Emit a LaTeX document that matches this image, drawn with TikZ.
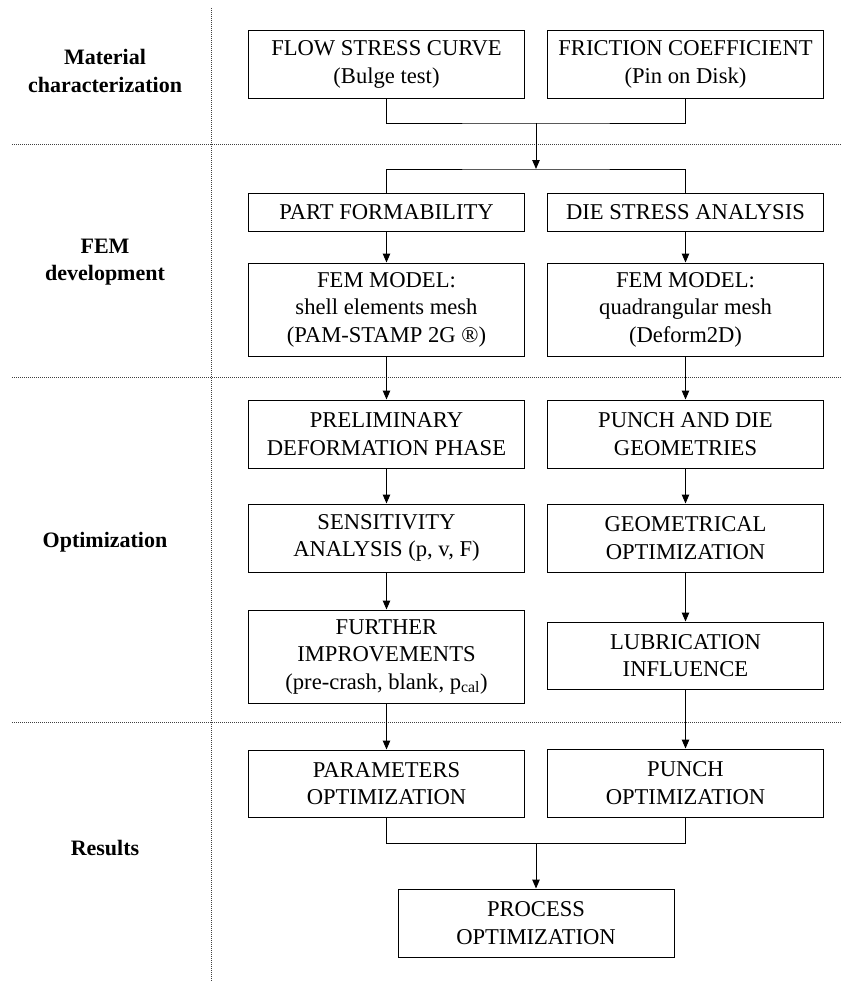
\documentclass[tikz,border=0pt]{standalone}
\usepackage{fontspec}
\setmainfont{Liberation Serif}
\usetikzlibrary{arrows.meta, positioning, calc}

\begin{document}
\begin{tikzpicture}[
  x=1pt, y=-1pt,
  font=\fontsize{22.6}{27.5}\selectfont,
  box/.style={draw, line width=1pt, minimum width=276pt, align=center,
              inner sep=2pt},
  link/.style={line width=1pt},
  arrow/.style={-{Triangle[length=9pt, width=7.5pt]}, line width=1pt},
  sep/.style={line width=0.9pt, black!75, dash pattern=on 1pt off 1pt},
  rowlabel/.style={font=\fontsize{22}{27.5}\selectfont\bfseries, align=center}
]
\useasboundingbox (0,0) rectangle (842,982);

%% Row separators
\draw[sep] (211,8) -- (211,982);
\draw[sep] (12,144) -- (842,144);
\draw[sep] (12,377) -- (842,377);
\draw[sep] (12,722) -- (842,722);

%% Row labels
\node[rowlabel] (lmat) at (105,71)  {Material\\characterization};
\node[rowlabel] (lfem) at (105,262) {FEM\\development};
\node[rowlabel] (lopt) at (105,542) {Optimization};
\node[rowlabel] (lres) at (105,848) {Results};

%% Material characterization
\node[box, minimum height=67pt] (flow)     at (386.5,64.5) {FLOW STRESS CURVE\\(Bulge test)};
\node[box, minimum height=67pt] (friction) at (685.5,64.5) {FRICTION COEFFICIENT\\(Pin on Disk)};
\coordinate (j1) at (536,123);
\coordinate (j2) at (536,169);
\draw[link] (flow.south) |- (j1) -| (friction.south);
\draw[arrow] (j1) -- (j2);

%% FEM development
\node[box, minimum height=38pt] (formab)    at (386.5,212) {PART FORMABILITY};
\node[box, minimum height=38pt] (diestress) at (685.5,212) {DIE STRESS ANALYSIS};
\node[box, minimum height=93pt] (femshell)  at (386.5,309.5) {FEM MODEL:\\shell elements mesh\\(PAM-STAMP 2G \textregistered)};
\node[box, minimum height=93pt] (femquad)   at (685.5,309.5) {FEM MODEL:\\quadrangular mesh\\(Deform2D)};
\draw[link] (formab.north) |- (j2) -| (diestress.north);
\draw[arrow] (formab) -- (femshell);
\draw[arrow] (diestress) -- (femquad);

%% Optimization
\node[box, minimum height=68pt] (prelim)  at (386.5,434) {PRELIMINARY\\DEFORMATION PHASE};
\node[box, minimum height=68pt] (geomin)  at (685.5,434) {PUNCH AND DIE\\GEOMETRIES};
\node[box, minimum height=68pt] (sensit)  at (386.5,538) {SENSITIVITY\\ANALYSIS (p, v, F)};
\node[box, minimum height=68pt] (geomopt) at (685.5,538) {GEOMETRICAL\\OPTIMIZATION};
\node[box, minimum height=93pt] (further) at (386.5,656.5) {FURTHER\\IMPROVEMENTS\\(pre-crash, blank, p\textsubscript{cal})};
\node[box, minimum height=67pt] (lubric)  at (685.5,655.5) {LUBRICATION\\INFLUENCE};
\draw[arrow] (femshell) -- (prelim);
\draw[arrow] (femquad) -- (geomin);
\draw[arrow] (prelim) -- (sensit);
\draw[arrow] (geomin) -- (geomopt);
\draw[arrow] (sensit) -- (further);
\draw[arrow] (geomopt) -- (lubric);

%% Results
\node[box, minimum height=67pt] (paramopt) at (386.5,783.5) {PARAMETERS\\OPTIMIZATION};
\node[box, minimum height=68pt] (punchopt) at (685.5,783)   {PUNCH\\OPTIMIZATION};
\node[box, minimum height=68pt] (process)  at (536,923)     {PROCESS\\OPTIMIZATION};
\coordinate (j3) at (536,843);
\draw[arrow] (further) -- (paramopt);
\draw[arrow] (lubric) -- (punchopt);
\draw[link] (paramopt.south) |- (j3) -| (punchopt.south);
\draw[arrow] (j3) -- (process);

\end{tikzpicture}
\end{document}
